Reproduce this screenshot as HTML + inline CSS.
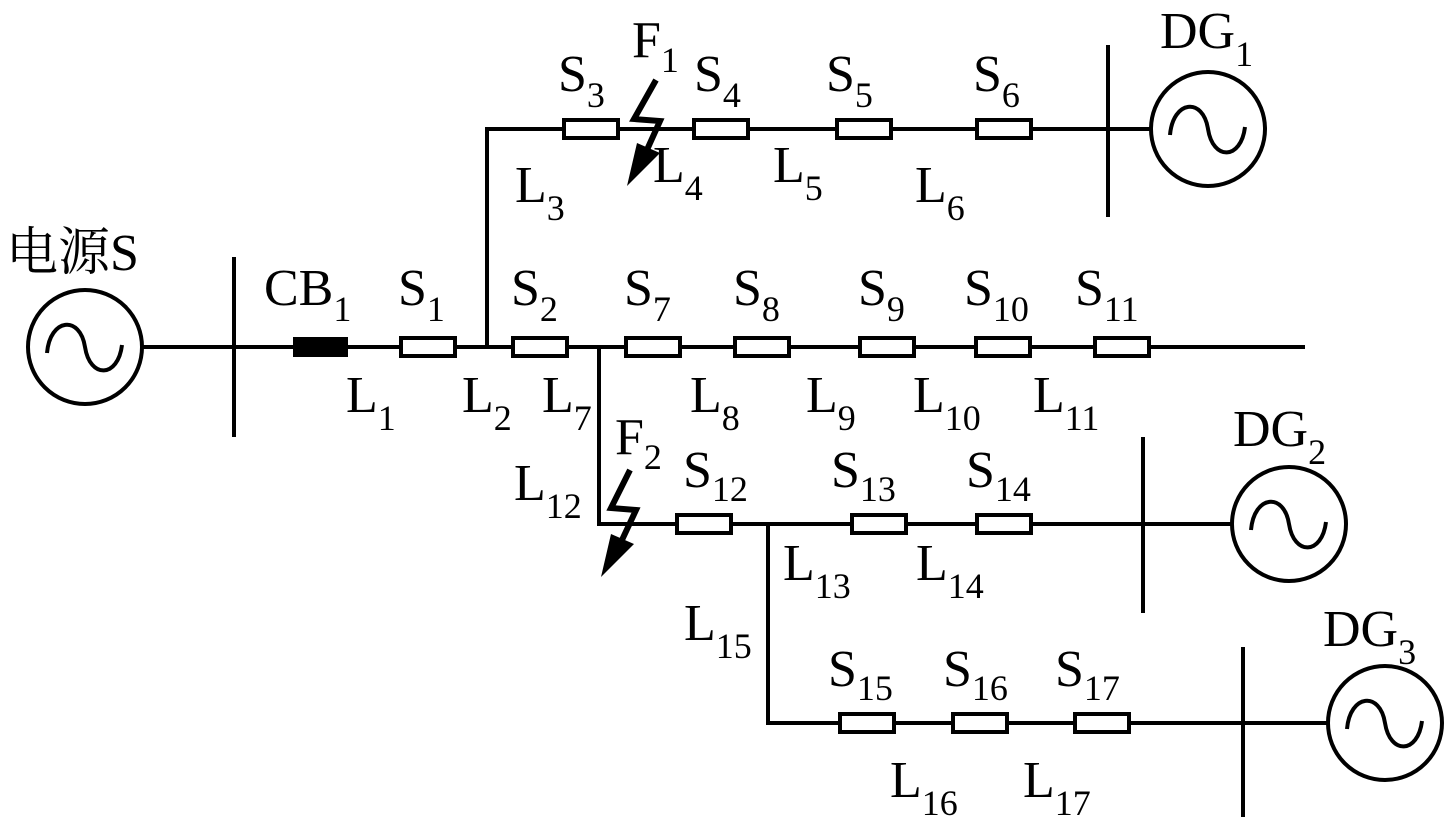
<!DOCTYPE html>
<html><head><meta charset="utf-8"><style>
html,body{margin:0;padding:0;background:#fff;}
svg{display:block;}
text{font-family:"Liberation Serif","Noto Serif CJK SC",serif;font-size:52px;fill:#000;}
.s{font-size:36px;}
</style></head><body>
<svg width="1446" height="832" viewBox="0 0 1446 832" xmlns="http://www.w3.org/2000/svg">
<g stroke="#000" stroke-width="4" fill="none">
<line x1="143" y1="347" x2="1305" y2="347"/>
<line x1="234" y1="257" x2="234" y2="437"/>
<polyline points="487,347 487,129 1150,129"/>
<line x1="1108" y1="45" x2="1108" y2="217"/>
<polyline points="599,347 599,524 1231,524"/>
<line x1="1143" y1="437" x2="1143" y2="613"/>
<polyline points="768,524 768,723 1328,723"/>
<line x1="1243" y1="647" x2="1243" y2="817"/>
<circle cx="85" cy="347" r="57"/>
<circle cx="1208" cy="129" r="57"/>
<circle cx="1289" cy="524" r="57"/>
<circle cx="1385" cy="723" r="57"/>
</g>
<g stroke="#000" stroke-width="4" fill="none">
<path d="M47,353 C50,318 80,315 85,347 C90,379 118,378 122,345" />
<path d="M1170,135 C1173,100 1203,97 1208,129 C1213,161 1241,160 1245,127" />
<path d="M1251,530 C1254,495 1284,492 1289,524 C1294,556 1322,555 1326,522" />
<path d="M1347,729 C1350,694 1380,691 1385,723 C1390,755 1418,754 1422,721" />
</g>
<rect x="293" y="337" width="55" height="20" fill="#000"/>
<g fill="#fff" stroke="#000" stroke-width="4">
<rect x="401" y="338" width="54" height="18"/>
<rect x="513" y="338" width="54" height="18"/>
<rect x="626" y="338" width="54" height="18"/>
<rect x="735" y="338" width="54" height="18"/>
<rect x="860" y="338" width="54" height="18"/>
<rect x="976" y="338" width="54" height="18"/>
<rect x="1095" y="338" width="54" height="18"/>
<rect x="564" y="120" width="54" height="18"/>
<rect x="694" y="120" width="54" height="18"/>
<rect x="837" y="120" width="54" height="18"/>
<rect x="977" y="120" width="54" height="18"/>
<rect x="677" y="515" width="54" height="18"/>
<rect x="852" y="515" width="54" height="18"/>
<rect x="977" y="515" width="54" height="18"/>
<rect x="840" y="714" width="54" height="18"/>
<rect x="953" y="714" width="54" height="18"/>
<rect x="1075" y="714" width="54" height="18"/>
</g>
<g>
<polyline points="656,80 634,119 660,121 646,152" stroke="#000" stroke-width="6" fill="none"/>
<polygon points="627,186 637,143 660,153" fill="#000"/>
<polyline points="630,470 611,508 636,510 622,540" stroke="#000" stroke-width="6" fill="none"/>
<polygon points="601,577 611,534 634,544" fill="#000"/>
</g>
<text x="6" y="270">电源S</text>
<text x="264" y="305">CB<tspan class="s" dy="16">1</tspan></text>
<text x="398" y="305">S<tspan class="s" dy="16">1</tspan></text>
<text x="511" y="305">S<tspan class="s" dy="16">2</tspan></text>
<text x="624" y="305">S<tspan class="s" dy="16">7</tspan></text>
<text x="733" y="305">S<tspan class="s" dy="16">8</tspan></text>
<text x="858" y="305">S<tspan class="s" dy="16">9</tspan></text>
<text x="964" y="305">S<tspan class="s" dy="16">10</tspan></text>
<text x="1075" y="305">S<tspan class="s" dy="16">11</tspan></text>
<text x="346" y="412">L<tspan class="s" dy="18">1</tspan></text>
<text x="462" y="412">L<tspan class="s" dy="18">2</tspan></text>
<text x="542" y="412">L<tspan class="s" dy="18">7</tspan></text>
<text x="690" y="412">L<tspan class="s" dy="18">8</tspan></text>
<text x="806" y="412">L<tspan class="s" dy="18">9</tspan></text>
<text x="913" y="412">L<tspan class="s" dy="18">10</tspan></text>
<text x="1033" y="412">L<tspan class="s" dy="18">11</tspan></text>
<text x="558" y="91">S<tspan class="s" dy="16">3</tspan></text>
<text x="632" y="57">F<tspan class="s" dy="15">1</tspan></text>
<text x="694" y="91">S<tspan class="s" dy="16">4</tspan></text>
<text x="826" y="91">S<tspan class="s" dy="16">5</tspan></text>
<text x="973" y="91">S<tspan class="s" dy="16">6</tspan></text>
<text x="515" y="202">L<tspan class="s" dy="18">3</tspan></text>
<text x="653" y="182">L<tspan class="s" dy="18">4</tspan></text>
<text x="773" y="182">L<tspan class="s" dy="18">5</tspan></text>
<text x="915" y="202">L<tspan class="s" dy="18">6</tspan></text>
<text x="1160" y="48">DG<tspan class="s" dy="18">1</tspan></text>
<text x="1233" y="446">DG<tspan class="s" dy="18">2</tspan></text>
<text x="1323" y="646">DG<tspan class="s" dy="18">3</tspan></text>
<text x="514" y="500">L<tspan class="s" dy="18">12</tspan></text>
<text x="615" y="454">F<tspan class="s" dy="15">2</tspan></text>
<text x="683" y="487">S<tspan class="s" dy="14">12</tspan></text>
<text x="831" y="487">S<tspan class="s" dy="14">13</tspan></text>
<text x="966" y="487">S<tspan class="s" dy="14">14</tspan></text>
<text x="783" y="580">L<tspan class="s" dy="18">13</tspan></text>
<text x="916" y="580">L<tspan class="s" dy="18">14</tspan></text>
<text x="684" y="640">L<tspan class="s" dy="18">15</tspan></text>
<text x="828" y="686">S<tspan class="s" dy="14">15</tspan></text>
<text x="943" y="686">S<tspan class="s" dy="14">16</tspan></text>
<text x="1055" y="686">S<tspan class="s" dy="14">17</tspan></text>
<text x="890" y="797">L<tspan class="s" dy="18">16</tspan></text>
<text x="1023" y="797">L<tspan class="s" dy="18">17</tspan></text>
</svg>
</body></html>
